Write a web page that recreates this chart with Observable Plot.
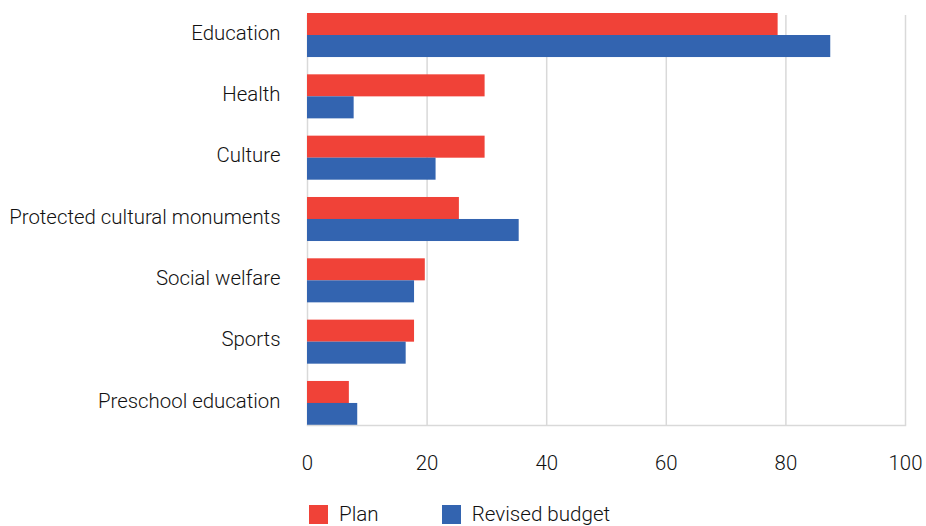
<!DOCTYPE html>
<html>
<head>
<meta charset="utf-8">
<script src="https://cdn.jsdelivr.net/npm/d3@7"></script>
<script src="https://cdn.jsdelivr.net/npm/@observablehq/plot@0.6"></script>
<style>
  html, body { margin: 0; padding: 0; background: #fff; }
  #chart { width: 926px; height: 526px; position: relative; overflow: hidden; font-family: Roboto, sans-serif; font-weight: 300; }
  .legend { position: absolute; top: 502px; left: 309px; display: flex; align-items: center; font-size: 20.6px; color: #111; }
  .legend .item { display: flex; align-items: center; }
  .legend .sw { width: 19px; height: 19px; margin-right: 11px; }
</style>
</head>
<body>
<div id="chart"></div>
<script>
const categories = ["Education", "Health", "Culture", "Protected cultural monuments", "Social welfare", "Sports", "Preschool education"];
const planValues = [78.7, 29.7, 29.7, 25.4, 19.7, 17.9, 7.0];
const revisedValues = [87.5, 7.8, 21.5, 35.4, 17.9, 16.5, 8.4];
const seriesNames = ["Plan", "Revised budget"];
const seriesColors = ["#F04238", "#3364B0"];
const xTicks = [0, 20, 40, 60, 80, 100];

const plan = categories.map((c, i) => ({category: c, value: planValues[i]}));
const revised = categories.map((c, i) => ({category: c, value: revisedValues[i]}));

const chart = Plot.plot({
  width: 926,
  height: 495,
  marginLeft: 307,
  marginRight: 21,
  marginTop: 13,
  marginBottom: 70,
  style: {fontFamily: "Roboto, sans-serif", fontWeight: 300, fontSize: "20.4px", color: "#111", background: "#fff"},
  x: {domain: [0, 100], ticks: xTicks, label: null},
  y: {domain: categories, paddingInner: 0.282, paddingOuter: 0, round: false, label: null},
  marks: [
    Plot.ruleX(xTicks, {stroke: "#d9d9d9", strokeWidth: 1.5, insetTop: 2}),
    Plot.barX(plan, {y: "category", x: "value", fill: seriesColors[0], insetBottom: 22.0}),
    Plot.barX(revised, {y: "category", x: "value", fill: seriesColors[1], insetTop: 22.0}),
    Plot.frame({anchor: "bottom", stroke: "#d9d9d9", strokeWidth: 1.5}),
    Plot.axisX({ticks: xTicks, tickSize: 0, tickPadding: 30, fontSize: 20.4, label: null}),
    Plot.axisY({tickSize: 0, tickPadding: 27, fontSize: 20.4, dy: -2.5, label: null})
  ]
});
document.getElementById("chart").appendChild(chart);

const legend = document.createElement("div");
legend.className = "legend";
seriesNames.forEach((name, i) => {
  const item = document.createElement("div");
  item.className = "item";
  item.style.marginRight = i === 0 ? "63px" : "0";
  const sw = document.createElement("div");
  sw.className = "sw";
  sw.style.background = seriesColors[i];
  const t = document.createElement("span");
  t.textContent = name;
  item.appendChild(sw);
  item.appendChild(t);
  legend.appendChild(item);
});
document.getElementById("chart").appendChild(legend);
</script>
</body>
</html>
